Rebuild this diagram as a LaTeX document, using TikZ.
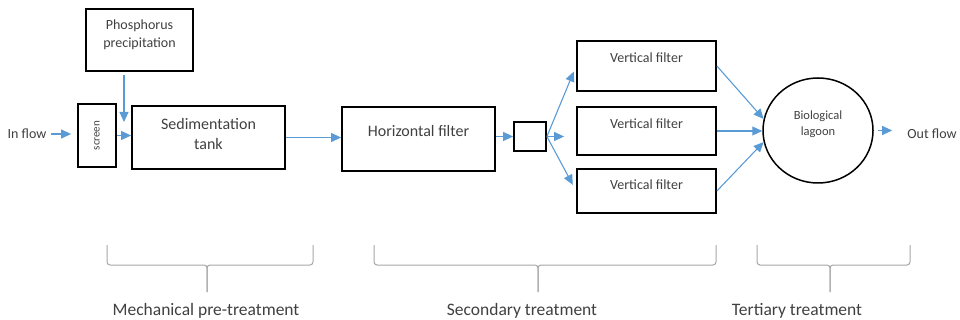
\documentclass[tikz,border=0pt]{standalone}
\usepackage{fontspec}
\setmainfont{Carlito}
\usetikzlibrary{arrows.meta,shapes.geometric}
\definecolor{flowblue}{HTML}{5B9BD5}
\definecolor{txtgray}{HTML}{404040}
\definecolor{bracegray}{HTML}{A6A6A6}

\begin{document}
\begin{tikzpicture}[x=1pt, y=-1pt,
  unit/.style={draw=black, line width=1.8pt, inner sep=0pt},
  lbl/.style={text=txtgray, inner sep=2pt, align=center},
  flow/.style={draw=flowblue, line width=1.1pt, -{Triangle[length=10pt,width=9pt]}},
  brace/.style={draw=bracegray, line width=1pt, rounded corners=3pt}]
  \useasboundingbox (0,0) rectangle (960,320);

  % Treatment units
  \node[unit, minimum width=107pt, minimum height=62pt,
    label={[lbl, yshift=5pt, font=\fontsize{14}{18}\selectfont]center:Phosphorus\\precipitation}] (phos) at (139.5,40) {};
  \node[unit, minimum width=38pt, minimum height=63pt,
    label={[lbl, rotate=90, font=\fontsize{11}{13}\selectfont]center:screen}] (screen) at (97,135.5) {};
  \node[unit, minimum width=153pt, minimum height=63pt,
    label={[lbl, yshift=3.5pt, font=\fontsize{16}{20}\selectfont]center:Sedimentation\\tank}] (sed) at (208.5,137.5) {};
  \node[unit, minimum width=153pt, minimum height=64pt,
    label={[lbl, yshift=8pt, font=\fontsize{16}{20}\selectfont]center:Horizontal filter}] (hfilt) at (418.5,139) {};
  \node[unit, minimum width=32pt, minimum height=29pt] (split) at (530,136.5) {};
  \node[unit, minimum width=139pt, minimum height=50pt,
    label={[lbl, yshift=8pt, font=\fontsize{14}{17}\selectfont]center:Vertical filter}] (vf1) at (646.5,66) {};
  \node[unit, minimum width=139pt, minimum height=48pt,
    label={[lbl, yshift=7pt, font=\fontsize{14}{17}\selectfont]center:Vertical filter}] (vf2) at (646.5,131) {};
  \node[unit, minimum width=139pt, minimum height=44pt,
    label={[lbl, yshift=6pt, font=\fontsize{14}{17}\selectfont]center:Vertical filter}] (vf3) at (646.5,191) {};
  \node[unit, ellipse, line width=1.5pt, minimum width=110pt, minimum height=105pt,
    label={[lbl, yshift=6.5pt, font=\fontsize{12.5}{16}\selectfont]center:Biological\\lagoon}] (lagoon) at (818,130.5) {};

  % In and out
  \node[lbl, font=\fontsize{14}{17}\selectfont] (inflow) at (27,134) {In flow};
  \node[lbl, font=\fontsize{14}{17}\selectfont] (outflow) at (932,134) {Out flow};
  \coordinate (drop) at (124,122);

  % Flow arrows
  \draw[flow, shorten <=2pt, shorten >=6pt] (inflow.east) -- (inflow.east -| screen.west);
  \draw[flow, shorten <=3pt] (phos.south -| drop) -- (drop);
  \draw[flow] (screen.east) -- (screen.east -| sed.west);
  \draw[flow] (sed.east) -- (sed.east -| hfilt.west);
  \draw[flow] (split.west -| hfilt.east) -- (split.west);
  \draw[flow, shorten >=6pt] (split.east) -- (vf1.west);
  \draw[flow, shorten >=12pt] (split.east) -- (split.east -| vf2.west);
  \draw[flow, shorten >=7pt] (split.east) -- (vf3.west);
  \draw[flow] (vf1.east) -- (lagoon.168);
  \draw[flow] (vf2.east) -- (vf2.east -| lagoon.west);
  \draw[flow] (vf3.east) -- (lagoon.192);
  \draw[flow, shorten <=4pt, shorten >=13pt] (lagoon.east) -- (lagoon.east -| outflow.west);

  % Stage braces
  \foreach \l/\r/\m in {107/313/207, 374/716/538, 757/910/830}{
    \draw[brace] (\l,245) -- (\l,265) -- (\m,265) -- (\m,292);
    \draw[brace] (\r,245) -- (\r,265) -- (\m,265) -- (\m,292);
  }
  \node[lbl, font=\fontsize{17.5}{21}\selectfont] (mech) at (206,311) {Mechanical pre-treatment};
  \node[lbl, font=\fontsize{17.5}{21}\selectfont] (second) at (522,311) {Secondary treatment};
  \node[lbl, font=\fontsize{17.5}{21}\selectfont] (tert) at (797,311) {Tertiary treatment};
\end{tikzpicture}
\end{document}
